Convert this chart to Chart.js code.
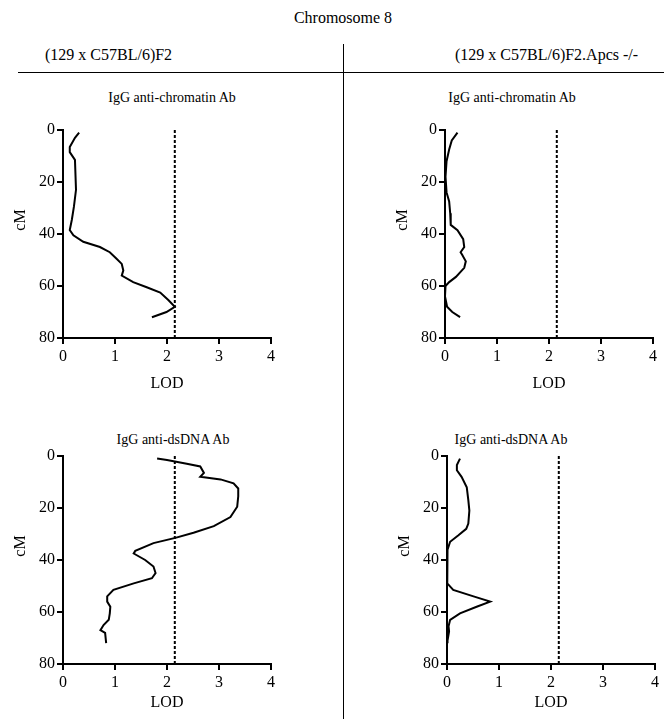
<!DOCTYPE html>
<html>
<head>
<meta charset="utf-8">
<script src="https://cdn.jsdelivr.net/npm/chart.js@4/dist/chart.umd.min.js"></script>
<style>
  body { margin: 0; background: #fff; }
  #page { position: relative; width: 664px; height: 719px; font-family: 'Liberation Serif', 'Times New Roman', serif; color: #000; }
  .txt { position: absolute; white-space: nowrap; line-height: 20px; }
  canvas { position: absolute; }
</style>
</head>
<body>
<div id="page">
  <div class="txt" style="left:0; width:686px; text-align:center; top:8px; font-size:16px;">Chromosome 8</div>
  <div class="txt" style="left:45px; top:45px; font-size:16px;">(129 x C57BL/6)F2</div>
  <div class="txt" style="left:455px; top:45px; font-size:16px;">(129 x C57BL/6)F2.Apcs -/-</div>
  <div style="position:absolute; left:18px; top:72px; width:646px; height:1px; background:#000;"></div>
  <div style="position:absolute; left:343px; top:44px; width:1px; height:675px; background:#000;"></div>

  <div class="txt" style="left:72px; width:200px; text-align:center; top:88px; font-size:14px;">IgG anti-chromatin Ab</div>
  <div class="txt" style="left:412px; width:200px; text-align:center; top:88px; font-size:14px;">IgG anti-chromatin Ab</div>
  <div class="txt" style="left:73px; width:200px; text-align:center; top:430px; font-size:14px;">IgG anti-dsDNA Ab</div>
  <div class="txt" style="left:411px; width:200px; text-align:center; top:430px; font-size:14px;">IgG anti-dsDNA Ab</div>

  <canvas id="f2Chromatin" width="280" height="290" style="left:0; top:110px;"></canvas>
  <canvas id="apcsChromatin" width="280" height="290" style="left:382px; top:110px;"></canvas>
  <canvas id="f2Dsdna" width="280" height="283" style="left:0; top:436px;"></canvas>
  <canvas id="apcsDsdna" width="280" height="283" style="left:384px; top:436px;"></canvas>
</div>
<script>
const cmTicks = [0, 20, 40, 60, 80];
const lodTicks = [0, 1, 2, 3, 4];
const lodThreshold = 2.15;

// (129 x C57BL/6)F2, IgG anti-chromatin
const f2ChromatinCM  = [1, 3, 6.5, 8.5, 11.5, 23, 29.5, 34.5, 38.5, 40.5, 43, 45, 47, 49.5, 51.5, 54, 56, 58.5, 60.5, 62.5, 65.5, 68, 70, 72];
const f2ChromatinLOD = [0.31, 0.23, 0.13, 0.13, 0.23, 0.25, 0.21, 0.17, 0.13, 0.2, 0.39, 0.71, 0.9, 1.03, 1.13, 1.16, 1.13, 1.35, 1.61, 1.87, 2.03, 2.15, 1.99, 1.71];

// Apcs-/-, IgG anti-chromatin
const apcsChromatinCM  = [1, 4, 7.5, 12, 18, 24, 27.5, 32, 36.5, 38.5, 42, 45, 47, 48, 50.5, 53, 56.5, 58.5, 60, 64, 68, 70, 72];
const apcsChromatinLOD = [0.24, 0.13, 0.08, 0.03, 0.01, 0.03, 0.08, 0.1, 0.11, 0.24, 0.35, 0.37, 0.3, 0.33, 0.4, 0.37, 0.21, 0.08, 0.01, 0, 0.04, 0.14, 0.29];

// (129 x C57BL/6)F2, IgG anti-dsDNA
const f2DsdnaCM  = [1, 1.5, 3, 4, 6.5, 8, 9, 10.5, 12.5, 15.5, 19.5, 23.5, 27, 29.5, 31.5, 33.5, 36.5, 37.5, 40, 42.5, 45, 47, 49, 51.5, 54, 56, 58, 60.5, 63, 65, 67, 68, 72];
const f2DsdnaLOD = [1.81, 2.0, 2.38, 2.64, 2.71, 2.64, 3.03, 3.28, 3.37, 3.37, 3.35, 3.22, 2.9, 2.51, 2.16, 1.74, 1.39, 1.36, 1.58, 1.74, 1.78, 1.71, 1.36, 0.97, 0.85, 0.85, 0.91, 0.9, 0.88, 0.78, 0.72, 0.81, 0.83];

// Apcs-/-, IgG anti-dsDNA
const apcsDsdnaCM  = [1, 3.5, 5.5, 8, 12, 17, 21, 26, 28, 30.5, 33, 36, 42.5, 49, 51.5, 54, 56, 58, 60.5, 63, 65.5, 67.5, 71, 72];
const apcsDsdnaLOD = [0.25, 0.19, 0.19, 0.28, 0.38, 0.41, 0.43, 0.41, 0.37, 0.22, 0.06, 0.01, 0, 0.01, 0.12, 0.51, 0.83, 0.57, 0.25, 0.06, 0.03, 0.04, 0.01, 0.01];

Chart.defaults.font.family = "'Liberation Serif', 'Times New Roman', serif";
Chart.defaults.font.size = 16;
Chart.defaults.color = '#000';

function renderLodChart(id, cm, lod, xHeight) {
  const ctx = document.getElementById(id).getContext('2d');
  new Chart(ctx, {
    type: 'line',
    data: {
      datasets: [{
        data: cm.map((c, i) => ({ x: lod[i], y: c })),
        borderColor: '#000',
        borderWidth: 2,
        pointRadius: 0,
        tension: 0,
        fill: false
      }, {
        // significance threshold
        data: [{ x: lodThreshold, y: cmTicks[0] }, { x: lodThreshold, y: cmTicks[cmTicks.length - 1] }],
        borderColor: '#000',
        borderWidth: 2,
        borderDash: [3, 2],
        pointRadius: 0,
        fill: false
      }]
    },
    options: {
      responsive: false,
      animation: false,
      layout: { padding: { top: 20, right: 9, left: 0, bottom: 0 } },
      plugins: { legend: { display: false }, tooltip: { enabled: false } },
      scales: {
        x: {
          type: 'linear',
          min: lodTicks[0],
          max: lodTicks[lodTicks.length - 1],
          afterBuildTicks: s => { s.ticks = lodTicks.map(v => ({ value: v })); },
          afterFit: s => { s.height = xHeight; },
          grid: { drawOnChartArea: false, drawTicks: true, tickLength: 6, color: '#000', lineWidth: 2 },
          border: { display: true, color: '#000', width: 2 },
          ticks: { padding: 3, maxRotation: 0 },
          title: { display: true, text: 'LOD', padding: { top: 0, bottom: 7 } }
        },
        y: {
          type: 'linear',
          reverse: true,
          min: cmTicks[0],
          max: cmTicks[cmTicks.length - 1],
          afterBuildTicks: s => { s.ticks = cmTicks.map(v => ({ value: v })); },
          afterFit: s => { s.width = 63; },
          grid: { drawOnChartArea: false, drawTicks: true, tickLength: 6, color: '#000', lineWidth: 2 },
          border: { display: true, color: '#000', width: 2 },
          ticks: { padding: 2 },
          title: { display: true, text: '\u00a0\u00a0\u00a0\u00a0\u00a0\u00a0\u00a0cM', padding: { top: 11, bottom: 0 } }
        }
      }
    }
  });
}

renderLodChart('f2Chromatin', f2ChromatinCM, f2ChromatinLOD, 62);
renderLodChart('apcsChromatin', apcsChromatinCM, apcsChromatinLOD, 62);
renderLodChart('f2Dsdna', f2DsdnaCM, f2DsdnaLOD, 55);
renderLodChart('apcsDsdna', apcsDsdnaCM, apcsDsdnaLOD, 55);
</script>
</body>
</html>
